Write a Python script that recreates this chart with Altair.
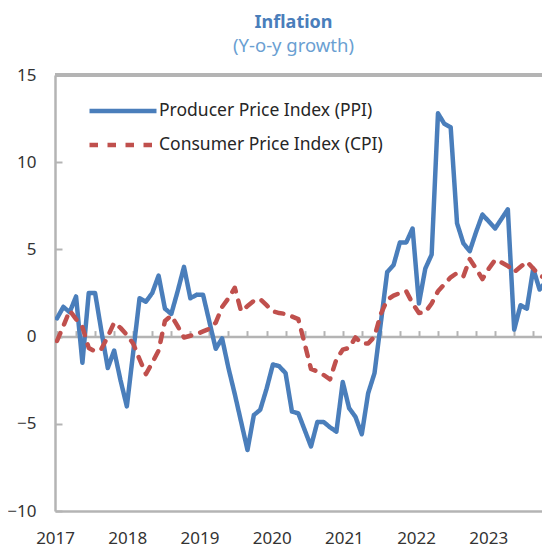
import json
import altair as alt
import pandas as pd

# ---- data (monthly index) ----
ppi = [1.05, 1.7, 1.4, 2.3, -1.5, 2.5, 2.5, 0.3, -1.8, -0.8, -2.5, -4.0,
       -0.9, 2.2, 2.0, 2.5, 3.5, 1.6, 1.3, 2.6, 4.0, 2.2, 2.4, 2.4,
       0.85, -0.7, -0.1, -1.8, -3.3, -4.9, -6.5, -4.5, -4.2, -3.0, -1.6, -1.7,
       -2.1, -4.3, -4.4, -5.35, -6.3, -4.9, -4.9, -5.2, -5.45, -2.6, -4.1, -4.6,
       -5.6, -3.25, -2.1, 0.8, 3.7, 4.1, 5.4, 5.4, 6.2, 1.9, 3.9, 4.7,
       12.8, 12.2, 12.0, 6.5, 5.35, 4.9, 6.0, 7.0, 6.6, 6.2, 6.75, 7.3,
       0.4, 1.8, 1.6, 3.9, 2.7, 3.15]
cpi = [-0.25, 0.6, 1.5, 1.0, 0.55, -0.65, -0.85, -0.7, 0.0, 0.8, 0.5, 0.1,
       -0.4, -1.3, -2.15, -1.5, -0.8, 0.9, 1.2, 0.6, -0.05, 0.05, 0.15, 0.3,
       0.45, 0.8, 1.7, 2.2, 2.8, 1.45, 1.75, 2.05, 2.15, 1.8, 1.45, 1.35,
       1.3, 1.15, 1.0, -0.4, -1.85, -2.0, -2.2, -2.45, -1.3, -0.75, -0.65, -0.05,
       -0.4, -0.4, 0.0, 1.3, 2.1, 2.35, 2.5, 2.6, 1.9, 1.35, 1.4, 1.9,
       2.6, 3.0, 3.4, 3.65, 3.45, 4.45, 3.9, 3.3, 3.9, 4.4, 4.25, 4.05,
       3.7, 4.0, 4.3, 3.9, 3.5, 3.35]
months = list(range(len(ppi)))
series_names = ["Producer Price Index (PPI)", "Consumer Price Index (CPI)"]
years = ["2017", "2018", "2019", "2020", "2021", "2022", "2023"]
y_ticks = [-10, -5, 0, 5, 10, 15]

df = pd.DataFrame({
    "month": months + months,
    "value": ppi + cpi,
    "series": [series_names[0]] * len(ppi) + [series_names[1]] * len(cpi),
    "order": [0] * len(ppi) + [1] * len(cpi),
})

FONT = "Noto Sans"
GRAY = "#B4B4B4"
W, H = 487, 436
x_min, x_max = -0.315, 76.38
label_start, label_step = -0.3, 11.37
label_vals = [label_start + label_step * i for i in range(len(years))]
label_expr = f"{json.dumps(years)}[round((datum.value - ({label_start})) / {label_step})]"

xscale = alt.Scale(domain=[x_min, x_max], nice=False, zero=False)
yscale = alt.Scale(domain=[-10, 15], nice=False, zero=False)

bottom_axis = alt.Axis(orient="bottom", values=label_vals, labelExpr=label_expr,
                       ticks=False, tickSize=0, grid=False, title=None,
                       domainColor=GRAY, domainWidth=2.5, labelFont=FONT,
                       labelFontSize=17, labelColor="#333333", labelPadding=19,
                       labelFlush=False, labelOverlap=False, labelBound=False)
left_axis = alt.Axis(orient="left", values=y_ticks, ticks=False, tickSize=0,
                     grid=False, title=None, domainColor=GRAY, domainWidth=2.5,
                     labelFont=FONT, labelFontSize=17, labelColor="#333333",
                     labelPadding=19, labelOverlap=False)
zero_axis = alt.Axis(orient="top", offset=-H * 15 / 25, values=list(range(0, 78, 3)),
                     labels=False, ticks=True, tickSize=6, tickColor=GRAY,
                     tickWidth=2, grid=False, title=None, domainColor=GRAY,
                     domainWidth=2.5)
inner_y_axis = alt.Axis(orient="right", offset=-W, values=y_ticks, labels=False,
                        ticks=True, tickSize=7, tickColor=GRAY, tickWidth=2,
                        domain=False, grid=False, title=None)

legend = alt.Legend(orient="none", legendX=32, legendY=26, title=None,
                    symbolType="stroke", symbolSize=4489, symbolStrokeWidth=4.5,
                    labelFont=FONT, labelFontSize=17.5, labelColor="#262626",
                    clipHeight=20, rowPadding=14, padding=0, labelOffset=0,
                    labelLimit=400)

lines = alt.Chart(df).mark_line(strokeWidth=4.5, strokeCap="round",
                                strokeJoin="round", clip=True).encode(
    x=alt.X("month:Q", scale=xscale, axis=bottom_axis),
    y=alt.Y("value:Q", scale=yscale, axis=left_axis),
    color=alt.Color("series:N", sort=series_names,
                    scale=alt.Scale(domain=series_names, range=["#4A7EBB", "#C0504D"]),
                    legend=legend),
    strokeDash=alt.StrokeDash("series:N", sort=series_names,
                              scale=alt.Scale(domain=series_names,
                                              range=[[1, 0], [8.5, 9.5]]),
                              legend=legend),
    order="order:Q",
)

aux = alt.Chart(df).mark_line(opacity=0).encode(
    x=alt.X("month:Q", scale=xscale, axis=zero_axis),
    y=alt.Y("value:Q", scale=yscale, axis=inner_y_axis),
)

top_border = alt.Chart(df).mark_rule(color=GRAY, strokeWidth=2.5).encode(
    y=alt.YDatum(15, axis=None, scale=yscale),
)

chart = alt.layer(aux, top_border, lines).resolve_axis(
    x="independent", y="independent"
).properties(
    width=W, height=H,
    autosize=alt.AutoSizeParams(type="none"),
    padding={"left": 47, "top": 67, "right": 0, "bottom": 37},
    title=alt.TitleParams(
        text="Inflation", subtitle="(Y-o-y growth)", anchor="middle",
        font=FONT, fontSize=18, fontWeight="bold", color="#4A7EBB",
        subtitleFont=FONT, subtitleFontSize=18.5, subtitleColor="#6A9FD2",
        subtitlePadding=5, offset=11, dx=-5,
    ),
).configure_view(stroke=None)

chart.save("out.html", embed_options={"renderer": "svg", "actions": False})
